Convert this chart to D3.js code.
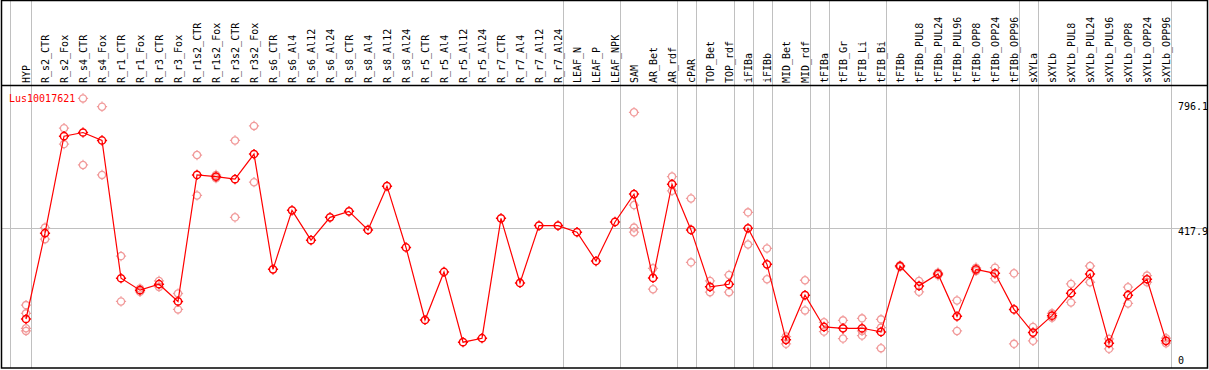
<!DOCTYPE html>
<html>
<head>
<meta charset="utf-8">
<script src="https://cdn.jsdelivr.net/npm/d3@7"></script>
<style>
  body { margin: 0; background: #fff; }
  svg { display: block; font-family: "DejaVu Sans Mono", monospace; font-size: 10px; }
</style>
</head>
<body>
<div id="chart"></div>
<script>
const geneName = 'Lus10017621';

const categories = [
  'HYP', 'R_s2_CTR', 'R_s2_Fox', 'R_s4_CTR', 'R_s4_Fox', 'R_r1_CTR', 'R_r1_Fox', 'R_r3_CTR', 'R_r3_Fox',
  'R_r1s2_CTR', 'R_r1s2_Fox', 'R_r3s2_CTR', 'R_r3s2_Fox', 'R_s6_CTR', 'R_s6_Al4', 'R_s6_Al12', 'R_s6_Al24',
  'R_s8_CTR', 'R_s8_Al4', 'R_s8_Al12', 'R_s8_Al24', 'R_r5_CTR', 'R_r5_Al4', 'R_r5_Al12', 'R_r5_Al24',
  'R_r7_CTR', 'R_r7_Al4', 'R_r7_Al12', 'R_r7_Al24', 'LEAF_N', 'LEAF_P', 'LEAF_NPK', 'SAM', 'AR_Bet',
  'AR_rdf', 'cPAR', 'TOP_Bet', 'TOP_rdf', 'iFIBa', 'iFIBb', 'MID_Bet', 'MID_rdf', 'tFIBa', 'tFIB_Gr',
  'tFIB_Li', 'tFIB_Bi', 'tFIBb', 'tFIBb_PUL8', 'tFIBb_PUL24', 'tFIBb_PUL96', 'tFIBb_OPP8', 'tFIBb_OPP24',
  'tFIBb_OPP96', 'sXYLa', 'sXYLb', 'sXYLb_PUL8', 'sXYLb_PUL24', 'sXYLb_PUL96', 'sXYLb_OPP8',
  'sXYLb_OPP24', 'sXYLb_OPP96'
];

// mean expression per sample
const means = [
  144, 403, 696, 707, 683, 267, 231, 249, 197,
  579, 574, 566, 642, 294, 472, 382, 451,
  469, 413, 545, 360, 141, 286, 74, 86,
  448, 253, 426, 426, 406, 319, 437, 521, 268,
  551, 413, 241, 249, 418, 309, 81, 216, 120, 116,
  116, 105, 304, 244, 280, 152, 294, 282,
  173, 103, 154, 222, 280, 71, 216,
  264, 78
];

// individual replicates (empty where they sit on the mean)
const replicates = [
  [186, 161, 116, 108], [420, 385], [720, 672], [810, 609], [785, 579], [334, 197], [236, 226], [259, 241], [221, 173],
  [639, 517], [579, 569], [683, 451], [727, 557], [], [], [], [],
  [], [], [], [], [], [], [], [],
  [], [], [], [], [], [], [], [768, 488, 420, 406], [297, 234],
  [574, 531], [508, 315], [259, 225], [277, 225], [466, 369], [357, 264], [91, 69], [261, 170], [134, 106], [140, 116, 85],
  [146, 108, 94], [143, 118, 56], [306, 301], [259, 226], [284, 276], [200, 108], [299, 289], [299, 266],
  [282, 69], [120, 78], [161, 148], [250, 194], [304, 255], [84, 54], [240, 191],
  [275, 255], [86, 71]
];

// group separators are drawn after these sample indices
const separators = [0, 28, 31, 34, 35, 37, 38, 39, 41, 42, 45, 52, 53, 60];

const yTickValues = [796.1, 417.9, 0];
const yTickLabels = ['796.1', '417.9', '0'];

const width = 1209;
const height = 370;
const headerBottom = 85;
const plotBottom = 368;

const svg = d3.select('#chart')
  .append('svg')
  .attr('width', width)
  .attr('height', height);

const x = d3.scaleBand()
  .domain(categories)
  .range([16.5, 16.5 + categories.length * 19])
  .padding(0);

const cx = d => x(d) + x.bandwidth() / 2;

const y = d3.scaleLinear()
  .domain([0, 796.1])
  .range([366.7, 103]);

// grid: vertical separators, left guide and the middle value line
svg.append('line')
  .attr('x1', 10.5).attr('x2', 10.5)
  .attr('y1', 0).attr('y2', plotBottom)
  .attr('stroke', '#c0c0c0');

svg.selectAll('.sep')
  .data(separators)
  .enter().append('line')
    .attr('class', 'sep')
    .attr('x1', i => Math.round(cx(categories[i]) + 4.7) + 0.5)
    .attr('x2', i => Math.round(cx(categories[i]) + 4.7) + 0.5)
    .attr('y1', 0)
    .attr('y2', plotBottom)
    .attr('stroke', '#c0c0c0');

svg.append('line')
  .attr('x1', 1).attr('x2', 1207)
  .attr('y1', Math.round(y(417.9)) + 0.5)
  .attr('y2', Math.round(y(417.9)) + 0.5)
  .attr('stroke', '#c0c0c0');

// frame
svg.append('rect')
  .attr('x', 1.5).attr('y', 0.5)
  .attr('width', 1206).attr('height', plotBottom - 0.5)
  .attr('fill', 'none')
  .attr('stroke', '#000')
  .attr('stroke-width', 1.5);

svg.append('line')
  .attr('x1', 1).attr('x2', 1208)
  .attr('y1', headerBottom + 0.5).attr('y2', headerBottom + 0.5)
  .attr('stroke', '#000')
  .attr('stroke-width', 1.5);

// column labels
svg.selectAll('.col-label')
  .data(categories)
  .enter().append('text')
    .attr('class', 'col-label')
    .attr('transform', d => `translate(${cx(d)}, ${headerBottom - 2}) rotate(-90)`)
    .attr('dy', '0.35em')
    .attr('fill', '#000')
    .text(d => d);

// y labels on the right
svg.selectAll('.y-label')
  .data(yTickValues)
  .enter().append('text')
    .attr('class', 'y-label')
    .attr('x', 1178)
    .attr('y', d => Math.min(y(d), 357))
    .attr('dominant-baseline', 'hanging')
    .attr('fill', '#000')
    .text((d, i) => yTickLabels[i]);

svg.append('text')
  .attr('x', 9)
  .attr('y', 102)
  .attr('fill', '#ff0000')
  .text(geneName);

// ring marker with four small ticks
const r = 3.6;
const marker = `M${-r},0A${r},${r} 0 1,0 ${r},0A${r},${r} 0 1,0 ${-r},0`
  + `M0,${-r - 1.5}V${-r}M0,${r}V${r + 1.5}M${-r - 1.5},0H${-r}M${r},0H${r + 1.5}`;

const repPoints = [];
replicates.forEach((reps, i) => {
  reps.forEach(v => repPoints.push({ cat: categories[i], value: v }));
});

svg.selectAll('.rep')
  .data(repPoints)
  .enter().append('path')
    .attr('class', 'rep')
    .attr('d', marker)
    .attr('transform', d => `translate(${cx(d.cat)}, ${y(d.value)})`)
    .attr('fill', 'none')
    .attr('stroke', '#ee8a8a')
    .attr('stroke-opacity', 0.85)
    .attr('stroke-width', 1.3);

const line = d3.line()
  .x((d, i) => cx(categories[i]))
  .y(d => y(d));

svg.append('path')
  .datum(means)
  .attr('d', line)
  .attr('fill', 'none')
  .attr('stroke', '#ff0000')
  .attr('stroke-width', 1.2);

svg.selectAll('.mean')
  .data(means)
  .enter().append('path')
    .attr('class', 'mean')
    .attr('d', marker)
    .attr('transform', (d, i) => `translate(${cx(categories[i])}, ${y(d)})`)
    .attr('fill', 'none')
    .attr('stroke', '#ff0000')
    .attr('stroke-width', 1.5);
</script>
</body>
</html>
